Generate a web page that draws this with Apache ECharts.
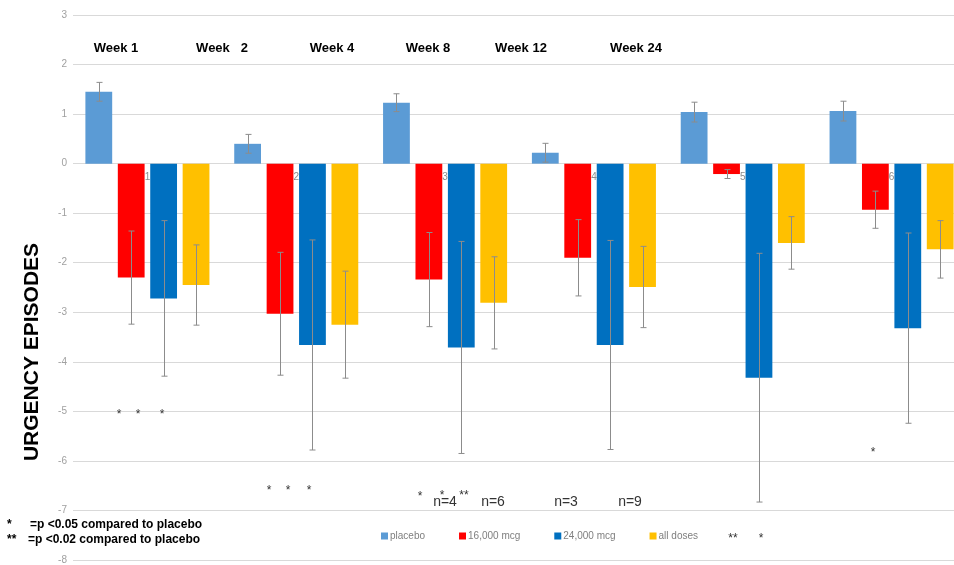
<!DOCTYPE html>
<html>
<head>
<meta charset="utf-8">
<script src="https://cdn.jsdelivr.net/npm/echarts@6/dist/echarts.min.js"></script>
<style>
  html, body { margin: 0; padding: 0; background: #fff; }
  #chart { width: 954px; height: 565px; }
</style>
</head>
<body>
<div id="chart"></div>
<script>
// Change in urgency episodes by visit, four treatment arms per visit
const categories = ['1', '2', '3', '4', '5', '6'];
const seriesNames = ['placebo', '16,000 mcg', '24,000 mcg', 'all doses'];

const placebo      = [1.45, 0.40, 1.23, 0.22, 1.04, 1.06];
const placeboErr   = [0.19, 0.19, 0.18, 0.19, 0.20, 0.20];
const dose16000    = [-2.30, -3.03, -2.34, -1.90, -0.21, -0.93];
const dose16000Err = [0.94, 1.24, 0.95, 0.77, 0.09, 0.375];
const dose24000    = [-2.72, -3.66, -3.71, -3.66, -4.32, -3.32];
const dose24000Err = [1.57, 2.12, 2.14, 2.11, 2.51, 1.92];
const allDoses     = [-2.45, -3.25, -2.81, -2.49, -1.60, -1.73];
const allDosesErr  = [0.81, 1.08, 0.93, 0.82, 0.53, 0.58];

const weekLabels = ['Week 1', 'Week   2', 'Week 4', 'Week 8', 'Week 12', 'Week 24'];
const footnotes = [['*', '=p <0.05 compared to placebo'], ['**', '=p <0.02 compared to placebo']];
const sampleSizes = ['n=4', 'n=6', 'n=3', 'n=9'];

const colors = ['#5B9BD5', '#FF0000', '#0070C0', '#FFC000'];
const FONT = '"Liberation Sans", Arial, sans-serif';
const BAR_WIDTH = 0.18;   // share of the category band
const BAR_GAP = 0.21;     // share of one bar width

function barSeries(name, values, color) {
  return {
    type: 'bar', name: name, data: values,
    barWidth: (BAR_WIDTH * 100) + '%', barGap: (BAR_GAP * 100) + '%',
    itemStyle: { color: color }, z: 2
  };
}

// Whiskers drawn on top of the matching bar (slot 0..3 inside the group)
function errorSeries(values, errs, slot) {
  return {
    type: 'custom', silent: true, z: 3,
    data: values.map((v, i) => [i, v - errs[i], v + errs[i]]),
    encode: { x: 0, y: [1, 2] },
    renderItem: function (params, api) {
      const band = api.size([1, 0])[0];
      const bw = band * BAR_WIDTH;
      const step = bw * (1 + BAR_GAP);
      const off = (slot - 1.5) * step;
      const lo = api.coord([api.value(0), api.value(1)]);
      const hi = api.coord([api.value(0), api.value(2)]);
      const x = Math.round(lo[0] + off) + 0.5;
      const cap = 3;
      const st = { stroke: '#8c8c8c', lineWidth: 1 };
      return {
        type: 'group',
        children: [
          { type: 'line', shape: { x1: x, y1: lo[1], x2: x, y2: hi[1] }, style: st },
          { type: 'line', shape: { x1: x - cap, y1: lo[1], x2: x + cap, y2: lo[1] }, style: st },
          { type: 'line', shape: { x1: x - cap, y1: hi[1], x2: x + cap, y2: hi[1] }, style: st }
        ]
      };
    }
  };
}

// Category numbers sit just under the zero line, at each group's centre
const categoryLabelSeries = {
  type: 'custom', silent: true, z: 1,
  data: categories.map((c, i) => [i, 0]),
  encode: { x: 0, y: 1 },
  renderItem: function (params, api) {
    const p = api.coord([api.value(0), api.value(1)]);
    return {
      type: 'text', x: p[0], y: p[1] + 14,
      style: { text: categories[params.dataIndex], fill: '#8c8c8c', font: '10px ' + FONT, align: 'center', verticalAlign: 'middle' }
    };
  }
};

function txt(x, y, text, opts) {
  return {
    type: 'text', x: x, y: y, z: 10,
    style: Object.assign({
      text: text, fill: '#404040', font: '10px ' + FONT,
      align: 'center', verticalAlign: 'middle'
    }, opts || {})
  };
}

const weekX = [116, 222, 332, 428, 521, 636];
const graphics = [];
weekLabels.forEach((w, i) => graphics.push(txt(weekX[i], 48, w, { fill: '#000', font: 'bold 13px ' + FONT })));

graphics.push({
  type: 'text', x: 32, y: 352, rotation: Math.PI / 2, z: 10,
  style: { text: 'URGENCY EPISODES', fill: '#000', font: 'bold 21px ' + FONT, align: 'center', verticalAlign: 'middle' }
});

// significance markers
const starFont = '12px ' + FONT;
[[119, 415], [138, 415], [162, 415],
 [269, 491], [288, 491], [309, 491],
 [420, 497], [442, 496],
 [761, 539], [873, 453]].forEach(p => graphics.push(txt(p[0], p[1], '*', { font: starFont, fill: '#333' })));
graphics.push(txt(464, 496, '**', { font: starFont, fill: '#333' }));
graphics.push(txt(733, 539, '**', { font: starFont, fill: '#333' }));

// sample sizes
[445, 493, 566, 630].forEach((x, i) => graphics.push(txt(x, 502, sampleSizes[i], { fill: '#333', font: '14px ' + FONT })));

// footnotes
graphics.push(txt(7, 525, footnotes[0][0], { fill: '#000', font: 'bold 12px ' + FONT, align: 'left' }));
graphics.push(txt(30, 525, footnotes[0][1], { fill: '#000', font: 'bold 12px ' + FONT, align: 'left' }));
graphics.push(txt(7, 540, footnotes[1][0], { fill: '#000', font: 'bold 12px ' + FONT, align: 'left' }));
graphics.push(txt(28, 540, footnotes[1][1], { fill: '#000', font: 'bold 12px ' + FONT, align: 'left' }));

const chart = echarts.init(document.getElementById('chart'), null, { renderer: 'canvas' });
chart.setOption({
  animation: false,
  backgroundColor: '#fff',
  color: colors,
  grid: { left: 73, top: 15, width: 893, height: 545, containLabel: false, outerBoundsMode: 'none' },
  legend: {
    data: seriesNames, left: 376, top: 526, icon: 'rect',
    itemWidth: 7, itemHeight: 7, itemGap: 34,
    textStyle: { fontSize: 10, color: '#7f7f7f', fontFamily: FONT, padding: [0, 0, 0, -3] }
  },
  xAxis: {
    type: 'category', data: categories,
    axisLine: { show: false },
    axisTick: { show: false },
    axisLabel: { show: false },
    splitLine: { show: false }
  },
  yAxis: {
    type: 'value', min: -8, max: 3, interval: 1,
    axisLine: { show: false }, axisTick: { show: false },
    axisLabel: { color: '#a0a0a0', fontSize: 10, margin: 6, fontFamily: FONT },
    splitLine: { lineStyle: { color: '#d9d9d9' } }
  },
  series: [
    barSeries(seriesNames[0], placebo, colors[0]),
    barSeries(seriesNames[1], dose16000, colors[1]),
    barSeries(seriesNames[2], dose24000, colors[2]),
    barSeries(seriesNames[3], allDoses, colors[3]),
    errorSeries(placebo, placeboErr, 0),
    errorSeries(dose16000, dose16000Err, 1),
    errorSeries(dose24000, dose24000Err, 2),
    errorSeries(allDoses, allDosesErr, 3),
    categoryLabelSeries
  ],
  graphic: graphics
});
</script>
</body>
</html>
